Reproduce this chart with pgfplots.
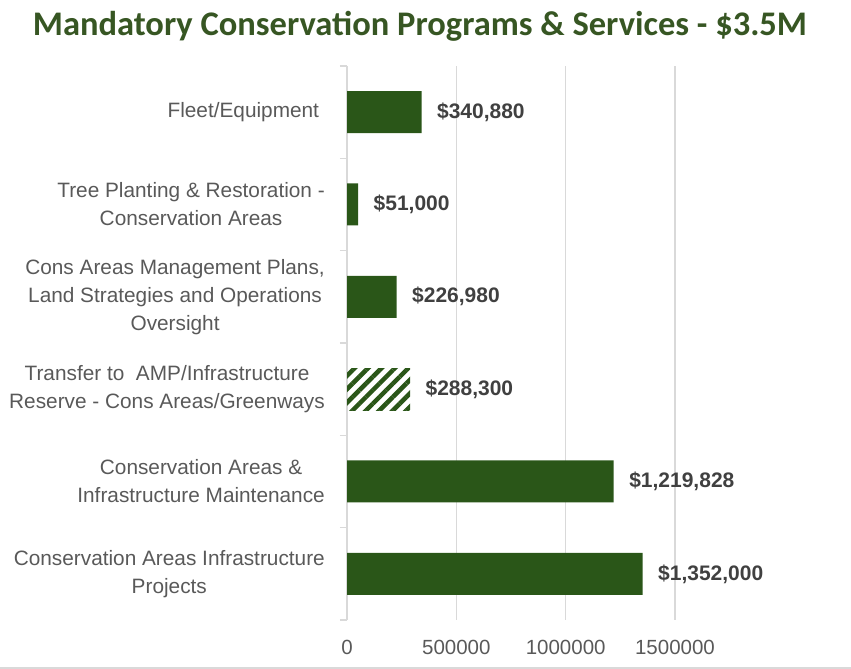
\documentclass[border=0pt]{standalone}
\usepackage{pgfplots}
\pgfplotsset{compat=1.18}
\usepackage{fontspec}
\setmainfont{Liberation Sans}
\newfontfamily\titlefont{Carlito}
\usetikzlibrary{patterns.meta}
\definecolor{bargreen}{RGB}{42,86,24}
\definecolor{titlegreen}{RGB}{55,86,35}
\definecolor{ticktext}{RGB}{89,89,89}
\definecolor{labeltext}{RGB}{64,64,64}
\definecolor{gridgray}{RGB}{217,217,217}
\begin{document}
\begin{tikzpicture}[x=1pt,y=1pt]
\path[use as bounding box] (0,0) rectangle (851,669);
\begin{axis}[
  at={(347pt,49pt)}, anchor=south west,
  scale only axis, width=328pt, height=554pt,
  xmin=0, xmax=1500000, ymin=-0.5, ymax=5.5,
  clip=false,
  axis line style={draw=none},
  xtick={0,500000,1000000,1500000},
  xticklabels={0,500000,1000000,1500000},
  xmajorgrids=true,
  grid style={gridgray, line width=1.3pt},
  major tick length=0pt,
  ytick={0,1,2,3,4,5},
  yticklabels={
    {Conservation Areas Infrastructure\\Projects},
    {Conservation Areas \&\\Infrastructure Maintenance},
    {Transfer to\ \ AMP/Infrastructure\\Reserve - Cons Areas/Greenways},
    {Cons Areas Management Plans,\\Land Strategies and Operations\\Oversight},
    {Tree Planting \& Restoration -\\Conservation Areas},
    {Fleet/Equipment\ }},
  minor ytick={-0.5,0.5,1.5,2.5,3.5,4.5,5.5},
  minor tick length=7pt,
  tick align=outside,
  ytick pos=left,
  xtick pos=bottom,
  minor tick style={gridgray, line width=1.3pt},
  yticklabel style={align=center, font=\fontsize{20.8}{28}\selectfont, text=ticktext, inner sep=0pt, xshift=-22pt},
  xticklabel style={font=\fontsize{20.5}{24}\selectfont, text=ticktext, inner sep=0pt, yshift=-20pt},
  /pgf/number format/assume math mode=true,
  xbar, bar width=42pt, bar shift=0pt,
  point meta=explicit symbolic,
  nodes near coords,
  every node near coord/.append style={font=\fontsize{21}{24}\selectfont\bfseries, text=labeltext, anchor=west, xshift=12pt},
]
\addplot[fill=bargreen, draw=none] coordinates {
  (1352000,0) [\$1,352,000]
  (1219828,1) [\$1,219,828]
  (226980,3) [\$226,980]
  (51000,4) [\$51,000]
  (340880,5) [\$340,880]
};
\addplot[draw=none, pattern={Lines[angle=45, distance=9.5pt, line width=4.5pt]}, pattern color=bargreen] coordinates {
  (288300,2) [\$288,300]
};
\end{axis}
\node[font=\titlefont\fontsize{34.5}{38}\selectfont\bfseries, text=titlegreen] at (420,643) {Mandatory Conservation Programs \& Services - \$3.5M};
\draw[gridgray, line width=1.5pt] (0,1) -- (851,1);
\end{tikzpicture}
\end{document}
